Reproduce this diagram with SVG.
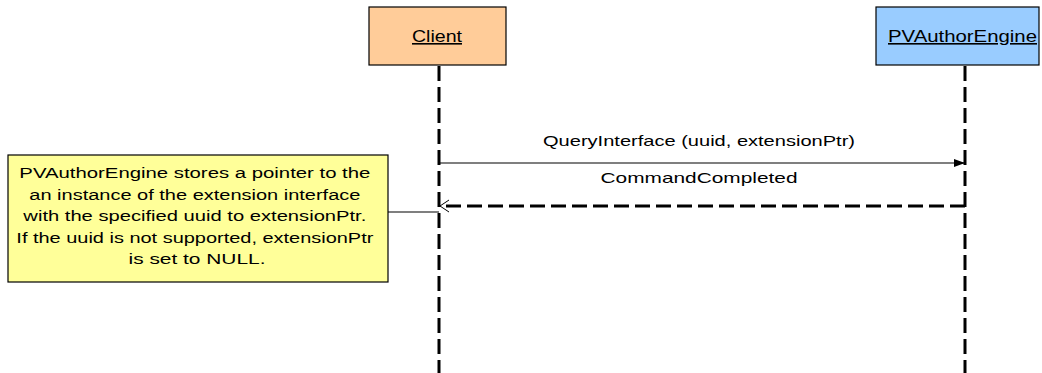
<svg xmlns="http://www.w3.org/2000/svg" width="1042" height="373" viewBox="0 0 1042 373">
<style>
text{font-family:"Liberation Sans",Arial,sans-serif;fill:#000}
.head{font-size:16px;text-decoration:underline}
.msg{font-size:15px}
.note{font-size:15.5px}
.life{stroke:#000;stroke-width:3;stroke-dasharray:15 6;fill:none}
</style>
<defs>
<marker id="filled" markerWidth="12" markerHeight="10" refX="11" refY="5" orient="auto" markerUnits="userSpaceOnUse">
<path d="M0,1 L11,5 L0,9 Z" fill="#000"/>
</marker>
<marker id="open" markerWidth="12" markerHeight="14" refX="10" refY="7" orient="auto" markerUnits="userSpaceOnUse">
<path d="M1,1 L10,7 L1,13" fill="none" stroke="#000" stroke-width="1"/>
</marker>
</defs>
<g id="lifelines">
<line class="life" x1="439" y1="66" x2="439" y2="373"/>
<line class="life" x1="965" y1="66" x2="965" y2="373"/>
</g>
<g id="client">
<rect x="369" y="7" width="137" height="58" fill="#FFCC99" stroke="#000" stroke-width="1.2"/>
<text class="head" x="437" y="42" text-anchor="middle" textLength="50" lengthAdjust="spacingAndGlyphs">Client</text>
</g>
<g id="engine">
<rect x="876" y="7" width="163" height="58" fill="#99CCFF" stroke="#000" stroke-width="1.2"/>
<text class="head" x="962.5" y="42" text-anchor="middle" textLength="149" lengthAdjust="spacingAndGlyphs">PVAuthorEngine</text>
</g>
<g id="note">
<rect x="8" y="155" width="380" height="127" fill="#FFFF99" stroke="#000" stroke-width="1.2"/>
<text class="note" text-anchor="middle">
<tspan x="197" y="178" textLength="351" lengthAdjust="spacingAndGlyphs">PVAuthorEngine stores a pointer to the</tspan>
<tspan x="197" y="199.5" textLength="331" lengthAdjust="spacingAndGlyphs">an instance of the extension interface</tspan>
<tspan x="197" y="221" textLength="343" lengthAdjust="spacingAndGlyphs">with the specified uuid to extensionPtr.</tspan>
<tspan x="197" y="242.5" textLength="357" lengthAdjust="spacingAndGlyphs">If the uuid is not supported, extensionPtr</tspan>
<tspan x="197" y="264" textLength="137" lengthAdjust="spacingAndGlyphs">is set to NULL.</tspan>
</text>
</g>
<g id="connectors">
<line x1="439" y1="163" x2="965" y2="163" stroke="#000" stroke-width="1.2" marker-end="url(#filled)"/>
<text class="msg" x="699" y="146" text-anchor="middle" textLength="312" lengthAdjust="spacingAndGlyphs">QueryInterface (uuid, extensionPtr)</text>
<line x1="965" y1="206" x2="440" y2="206" stroke="#000" stroke-width="3" stroke-dasharray="15 6" marker-end="url(#open)"/>
<text class="msg" x="699" y="183" text-anchor="middle" textLength="197" lengthAdjust="spacingAndGlyphs">CommandCompleted</text>
<line x1="388" y1="212" x2="439" y2="212" stroke="#000" stroke-width="1.2"/>
</g>
</svg>
